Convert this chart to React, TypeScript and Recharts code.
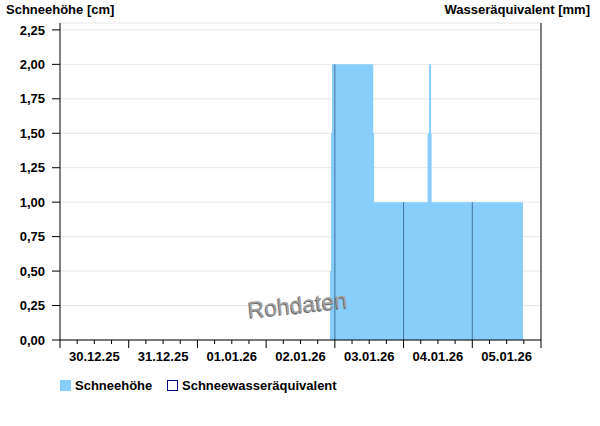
import React from 'react';
import { ComposedChart, Area, XAxis, YAxis, CartesianGrid, ReferenceLine } from 'recharts';

// hours since 30.12.25 00:00, snow depth in cm (step data)
const snowHours = [94.3, 94.65, 95.0, 109.4, 109.7, 128.4, 128.9, 129.6, 129.8, 161.7];
const snowValues = [0.5, 1.5, 2.0, 1.5, 1.0, 1.5, 2.0, 1.5, 1.0, 1.0];

// daily markers drawn inside the snow area (midnight readings)
const markerHours = [96, 120, 144];
const markerValues = [2.0, 1.0, 1.0];

const dayLabels = ['30.12.25', '31.12.25', '01.01.26', '02.01.26', '03.01.26', '04.01.26', '05.01.26'];
const xTicks = [0, 6, 12, 18, 24, 30, 36, 42, 48, 54, 60, 66, 72, 78, 84, 90, 96, 102, 108, 114, 120, 126, 132, 138, 144, 150, 156, 162, 168];
const yTicks = [0, 0.25, 0.5, 0.75, 1, 1.25, 1.5, 1.75, 2, 2.25];

const data = snowHours.map((h, i) => ({ h, v: snowValues[i] }));

const FONT = '"Liberation Sans", Arial, sans-serif';
const SNOW = '#87cefa';

const DayTick = (props: any) => {
  const { x, y, payload } = props;
  const h = payload.value;
  const major = h % 24 === 0;
  const label = h % 24 === 12 ? dayLabels[Math.floor(h / 24)] : null;
  return (
    <g>
      <line x1={x} x2={x} y1={y} y2={y + (major ? 8 : 4)} stroke="#000" />
      {label && (
        <text x={x} y={y + 21} textAnchor="middle" fontFamily={FONT} fontSize={13} fontWeight="bold" fill="#000">
          {label}
        </text>
      )}
    </g>
  );
};

const fmt = (v: number) => v.toFixed(2).replace('.', ',');

export default function App() {
  return (
    <div style={{ position: 'absolute', left: 0, top: 0, width: 600, height: 426, background: '#fff', fontFamily: FONT }}>
      <ComposedChart width={600} height={426} data={data} margin={{ top: 23, right: 0, bottom: 0, left: 0 }}>
        <CartesianGrid vertical={false} stroke="#e8e8e8" />
        <XAxis
          dataKey="h"
          type="number"
          domain={[0, 168]}
          ticks={xTicks}
          interval={0}
          height={86}
          tickLine={false}
          tickSize={0}
          tickMargin={0}
          tick={<DayTick />}
          axisLine={{ stroke: '#000' }}
        />
        <YAxis
          yAxisId={0}
          domain={[0, 2.3]}
          ticks={yTicks}
          interval={0}
          width={60}
          tickSize={8}
          tickMargin={7}
          tickFormatter={fmt}
          tick={{ fill: '#000', fontSize: 13, fontWeight: 'bold', fontFamily: FONT }}
          tickLine={{ stroke: '#000' }}
          axisLine={{ stroke: '#000' }}
        />
        <YAxis yAxisId="r" orientation="right" width={59} domain={[0, 1]} tick={false} tickLine={false} axisLine={{ stroke: '#000' }} />
        <Area
          yAxisId={0}
          type="stepAfter"
          dataKey="v"
          fill={SNOW}
          fillOpacity={1}
          stroke="none"
          isAnimationActive={false}
        />
        {markerHours.map((h, i) => (
          <ReferenceLine
            key={h}
            yAxisId={0}
            segment={[{ x: h, y: 0 }, { x: h, y: markerValues[i] }]}
            stroke="#44739a"
            strokeWidth={1}
          />
        ))}
      </ComposedChart>

      <div style={{ position: 'absolute', left: 6, top: 2, fontSize: 13, fontWeight: 'bold', lineHeight: '15px' }}>Schneehöhe [cm]</div>
      <div style={{ position: 'absolute', right: 10, top: 2, fontSize: 13, fontWeight: 'bold', lineHeight: '15px' }}>Wasseräquivalent [mm]</div>

      <div
        style={{
          position: 'absolute', left: 248, top: 297, fontSize: 23, color: '#a0a0a0',
          textShadow: '-1px 1px 0 #666', transform: 'rotate(-6deg)', transformOrigin: 'left center', lineHeight: '26px',
        }}
      >
        Rohdaten
      </div>

      <div style={{ position: 'absolute', left: 60, top: 380, width: 11, height: 11, background: SNOW }} />
      <div style={{ position: 'absolute', left: 75, top: 378, fontSize: 13, fontWeight: 'bold', lineHeight: '15px' }}>Schneehöhe</div>
      <div style={{ position: 'absolute', left: 167, top: 380, width: 11, height: 11, border: '1px solid #000080', boxSizing: 'border-box' }} />
      <div style={{ position: 'absolute', left: 182, top: 378, fontSize: 13, fontWeight: 'bold', lineHeight: '15px' }}>Schneewasseräquivalent</div>
    </div>
  );
}
